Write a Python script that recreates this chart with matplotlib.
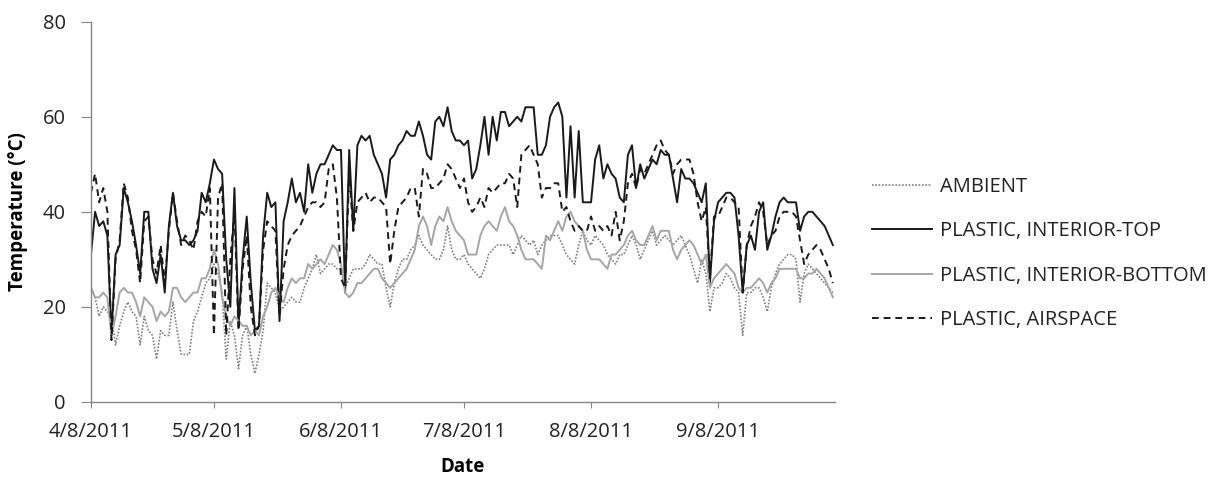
import matplotlib
matplotlib.use("Agg")
import matplotlib.pyplot as plt
import pandas as pd

start_date = "2011-04-08"
n_days = 182

ambient = [24, 22, 18, 20, 19, 18, 12, 16, 19, 21,
           19, 18, 12, 18, 15, 14, 9, 15, 14, 14,
           21, 15, 10, 10, 10, 17, 19, 22, 25, 26,
           29, 27, 23, 9, 17, 14, 7, 14, 16, 10,
           6, 10, 15, 25, 24, 23, 19, 20, 21, 22,
           21, 21, 24, 26, 28, 31, 27, 28, 29, 29,
           28, 28, 24, 26, 28, 28, 28, 29, 31, 30,
           29, 29, 24, 20, 25, 28, 30, 30, 32, 33,
           35, 33, 32, 31, 30, 30, 32, 37, 32, 30,
           30, 31, 29, 28, 27, 26, 28, 31, 32, 33,
           33, 33, 33, 31, 33, 35, 34, 33, 34, 31,
           33, 34, 35, 35, 35, 33, 31, 30, 29, 33,
           36, 34, 33, 35, 34, 33, 31, 30, 29, 31,
           31, 33, 35, 33, 30, 32, 34, 36, 33, 34,
           35, 34, 33, 34, 35, 33, 31, 28, 25, 30,
           27, 19, 24, 24, 25, 27, 26, 24, 23, 14,
           23, 23, 24, 24, 22, 19, 24, 27, 29, 30,
           31, 31, 30, 21, 27, 29, 28, 27, 26, 25,
           24, 23]

interior_top = [31, 40, 37, 38, 35, 14, 31, 33, 45, 42,
                38, 33, 27, 40, 40, 28, 25, 31, 23, 37,
                44, 37, 34, 34, 33, 34, 36, 44, 42, 46,
                51, 49, 48, 30, 20, 45, 16, 30, 39, 25,
                15, 16, 35, 44, 41, 42, 17, 38, 42, 47,
                42, 44, 40, 50, 44, 48, 50, 50, 52, 54,
                53, 53, 23, 53, 36, 54, 56, 55, 56, 52,
                50, 48, 43, 51, 52, 54, 55, 57, 56, 56,
                59, 56, 52, 51, 59, 60, 58, 62, 57, 55,
                55, 54, 55, 47, 49, 54, 60, 52, 60, 55,
                61, 61, 58, 59, 60, 59, 62, 62, 62, 52,
                52, 54, 60, 62, 63, 60, 43, 58, 43, 57,
                42, 42, 42, 51, 54, 47, 50, 48, 47, 43,
                42, 52, 54, 45, 50, 47, 49, 51, 50, 53,
                52, 52, 47, 42, 49, 47, 47, 46, 44, 42,
                46, 25, 38, 42, 43, 44, 44, 43, 35, 23,
                33, 35, 32, 40, 42, 32, 35, 39, 42, 43,
                42, 42, 42, 36, 39, 40, 40, 39, 38, 37,
                35, 33]

interior_bottom = [24, 22, 22, 23, 22, 14, 18, 23, 24, 23,
                   23, 21, 18, 22, 21, 20, 17, 19, 18, 19,
                   24, 24, 22, 21, 22, 23, 23, 26, 26, 28,
                   32, 29, 22, 18, 16, 18, 17, 16, 16, 14,
                   15, 14, 18, 20, 23, 24, 22, 21, 24, 26,
                   25, 26, 26, 29, 28, 29, 30, 29, 31, 33,
                   32, 29, 23, 22, 23, 25, 25, 26, 27, 28,
                   28, 26, 25, 24, 25, 26, 27, 28, 30, 32,
                   37, 39, 37, 33, 37, 39, 38, 41, 38, 36,
                   35, 34, 31, 31, 31, 35, 37, 38, 37, 36,
                   39, 41, 38, 37, 35, 32, 30, 30, 30, 29,
                   28, 35, 34, 36, 38, 36, 39, 40, 38, 37,
                   36, 32, 30, 30, 30, 29, 28, 31, 31, 32,
                   33, 35, 36, 34, 33, 33, 35, 37, 34, 36,
                   36, 36, 32, 30, 32, 33, 34, 33, 31, 29,
                   31, 24, 26, 27, 28, 29, 28, 27, 24, 23,
                   24, 24, 25, 26, 25, 23, 25, 26, 28, 28,
                   28, 28, 28, 26, 26, 27, 27, 28, 27, 26,
                   24, 22]

airspace = [44, 48, 42, 45, 40, 13, 30, 34, 46, 43,
            36, 32, 25, 38, 39, 30, 27, 33, 25, 36,
            44, 38, 33, 35, 34, 32, 38, 40, 39, 45,
            14, 43, 46, 14, 30, 40, 15, 28, 35, 20,
            14, 16, 32, 38, 37, 36, 18, 28, 33, 35,
            36, 37, 39, 41, 42, 42, 41, 42, 49, 50,
            43, 26, 24, 48, 36, 42, 43, 44, 42, 43,
            43, 42, 41, 29, 36, 41, 42, 43, 45, 45,
            39, 49, 48, 45, 45, 46, 47, 50, 49, 47,
            45, 47, 42, 40, 41, 43, 41, 45, 44, 45,
            46, 46, 48, 47, 41, 52, 53, 54, 52, 50,
            43, 45, 45, 46, 46, 40, 41, 38, 36, 37,
            36, 36, 39, 36, 37, 36, 37, 35, 40, 34,
            38, 46, 48, 45, 49, 48, 50, 52, 54, 55,
            53, 52, 48, 50, 51, 51, 51, 48, 42, 38,
            41, 26, 39, 39, 41, 43, 43, 42, 41, 23,
            33, 37, 39, 42, 40, 33, 35, 36, 39, 40,
            40, 40, 39, 34, 29, 31, 32, 33, 32, 30,
            28, 25]

series_labels = ["AMBIENT", "PLASTIC, INTERIOR-TOP",
                 "PLASTIC, INTERIOR-BOTTOM", "PLASTIC, AIRSPACE"]
tick_dates = ["2011-04-08", "2011-05-08", "2011-06-08",
              "2011-07-08", "2011-08-08", "2011-09-08"]
tick_labels = ["4/8/2011", "5/8/2011", "6/8/2011",
               "7/8/2011", "8/8/2011", "9/8/2011"]
y_ticks = [0, 20, 40, 60, 80]

plt.rcParams['font.family'] = ['Open Sans', 'DejaVu Sans']

dates = pd.date_range(start_date, periods=n_days, freq="D")

fig = plt.figure(figsize=(12.26, 4.83), dpi=100)
ax = fig.add_axes([0.0742, 0.168, 0.681 - 0.0742, 0.955 - 0.168])

l1, = ax.plot(dates, ambient, color="#7f7f7f", lw=1.2, linestyle=(0, (1, 1)))
l2, = ax.plot(dates, interior_top, color="#1a1a1a", lw=1.4)
l3, = ax.plot(dates, interior_bottom, color="#a6a6a6", lw=1.4)
l4, = ax.plot(dates, airspace, color="#1a1a1a", lw=1.4, linestyle=(0, (3.5, 2.5)))

ax.set_ylim(0, 80)
ax.set_yticks(y_ticks)
ax.set_xlim(pd.Timestamp(start_date), pd.Timestamp(start_date) + pd.Timedelta(days=181.5))
ax.set_xticks([pd.Timestamp(d) for d in tick_dates])
ax.set_xticklabels(tick_labels)

for s in ["top", "right"]:
    ax.spines[s].set_visible(False)
for s in ["left", "bottom"]:
    ax.spines[s].set_color("#868686")
    ax.spines[s].set_linewidth(1.0)
ax.tick_params(axis="both", direction="out", color="#868686",
               labelsize=14.5, labelcolor="#222222")
ax.tick_params(axis="x", length=4.5, pad=10)
ax.tick_params(axis="y", length=7, pad=11)

ax.set_ylabel("Temperature (°C)", fontsize=13.5, fontweight="bold")
ax.set_xlabel("Date", fontsize=13.5, fontweight="bold", labelpad=11)
ax.yaxis.set_label_coords(-0.085, 0.5)

fig.legend([l1, l2, l3, l4], series_labels, loc="upper left",
           bbox_to_anchor=(0.711, 0.634), frameon=False, fontsize=14.5,
           handlelength=3.0, handletextpad=0.4, labelspacing=1.22,
           borderpad=0, borderaxespad=0, labelcolor="#222222")

fig.savefig("out.png", dpi=100)
